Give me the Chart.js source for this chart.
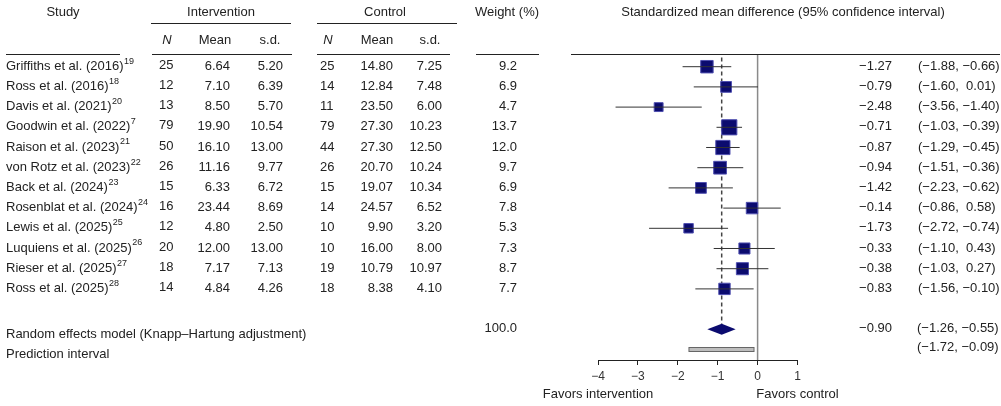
<!DOCTYPE html>
<html>
<head>
<meta charset="utf-8">
<script src="https://cdn.jsdelivr.net/npm/chart.js@4.4.1/dist/chart.umd.min.js"></script>
<style>
  html, body { margin: 0; padding: 0; background: #fff; }
  #wrap { width: 1001px; height: 406px; position: relative; }
</style>
</head>
<body>
<div id="wrap"><canvas id="forest"></canvas></div>
<script>
// studies and their reference numbers
var studies = ["Griffiths et al. (2016)", "Ross et al. (2016)", "Davis et al. (2021)", "Goodwin et al. (2022)",
  "Raison et al. (2023)", "von Rotz et al. (2023)", "Back et al. (2024)", "Rosenblat et al. (2024)",
  "Lewis et al. (2025)", "Luquiens et al. (2025)", "Rieser et al. (2025)", "Ross et al. (2025)"];
var refs = ["19", "18", "20", "7", "21", "22", "23", "24", "25", "26", "27", "28"];

// intervention arm
var intN = [25, 12, 13, 79, 50, 26, 15, 16, 12, 20, 18, 14];
var intMean = [6.64, 7.10, 8.50, 19.90, 16.10, 11.16, 6.33, 23.44, 4.80, 12.00, 7.17, 4.84];
var intSd = [5.20, 6.39, 5.70, 10.54, 13.00, 9.77, 6.72, 8.69, 2.50, 13.00, 7.13, 4.26];

// control arm
var ctlN = [25, 14, 11, 79, 44, 26, 15, 14, 10, 10, 19, 18];
var ctlMean = [14.80, 12.84, 23.50, 27.30, 27.30, 20.70, 19.07, 24.57, 9.90, 16.00, 10.79, 8.38];
var ctlSd = [7.25, 7.48, 6.00, 10.23, 12.50, 10.24, 10.34, 6.52, 3.20, 8.00, 10.97, 4.10];

// weights and effect sizes
var weight = [9.2, 6.9, 4.7, 13.7, 12.0, 9.7, 6.9, 7.8, 5.3, 7.3, 8.7, 7.7];
var smd = [-1.27, -0.79, -2.48, -0.71, -0.87, -0.94, -1.42, -0.14, -1.73, -0.33, -0.38, -0.83];
var ciLow = [-1.88, -1.60, -3.56, -1.03, -1.29, -1.51, -2.23, -0.86, -2.72, -1.10, -1.03, -1.56];
var ciHigh = [-0.66, 0.01, -1.40, -0.39, -0.45, -0.36, -0.62, 0.58, -0.74, 0.43, 0.27, -0.10];

// pooled estimate and prediction interval
var pooled = [-0.90, -1.26, -0.55];
var predInt = [-1.72, -0.09];
var totalWeight = 100.0;

// axis ticks
var xTicks = [-4, -3, -2, -1, 0, 1];

var FONT = "'Liberation Sans', Arial, sans-serif";
var INK = "#222";
var NAVY = "#0b0b6f";
var rowPooled = studies.length + 1;
var rowPred = studies.length + 2;

function fmt(v, d) {
  return v.toFixed(d).replace("-", "\u2212");
}
function ciText(lo, hi) {
  return "(" + fmt(lo, 2) + "," + (hi >= 0 ? "  " : " ") + fmt(hi, 2) + ")";
}
function txt(ctx, s, x, y, align, size, style) {
  ctx.font = (style || "") + " " + (size || 13) + "px " + FONT;
  ctx.textAlign = align || "left";
  ctx.textBaseline = "middle";
  ctx.fillStyle = INK;
  ctx.fillText(s, x, y);
  return ctx.measureText(s).width;
}
function hline(ctx, x1, x2, y) {
  ctx.beginPath();
  ctx.moveTo(x1, y);
  ctx.lineTo(x2, y);
  ctx.stroke();
}

var tablePlugin = {
  id: "forestTable",
  beforeDatasetsDraw: function (chart) {
    var ctx = chart.ctx, xs = chart.scales.x, ys = chart.scales.y, area = chart.chartArea;
    ctx.save();
    // line of no effect
    var x0 = xs.getPixelForValue(0);
    ctx.strokeStyle = "#8a8a8a";
    ctx.lineWidth = 1.5;
    ctx.beginPath();
    ctx.moveTo(x0, area.top);
    ctx.lineTo(x0, area.bottom);
    ctx.stroke();
    // pooled estimate (dashed)
    var xp = xs.getPixelForValue(pooled[0]);
    ctx.strokeStyle = "#444";
    ctx.setLineDash([4, 3]);
    ctx.beginPath();
    ctx.moveTo(xp, area.top + 3);
    ctx.lineTo(xp, ys.getPixelForValue(rowPooled) - 5);
    ctx.stroke();
    ctx.restore();
  },
  afterDatasetsDraw: function (chart) {
    var ctx = chart.ctx, xs = chart.scales.x, ys = chart.scales.y, area = chart.chartArea;
    ctx.save();

    // pooled diamond
    var yc = ys.getPixelForValue(rowPooled);
    ctx.fillStyle = NAVY;
    ctx.beginPath();
    ctx.moveTo(xs.getPixelForValue(pooled[1]), yc);
    ctx.lineTo(xs.getPixelForValue(pooled[0]), yc - 5.5);
    ctx.lineTo(xs.getPixelForValue(pooled[2]), yc);
    ctx.lineTo(xs.getPixelForValue(pooled[0]), yc + 5.5);
    ctx.closePath();
    ctx.fill();

    // prediction interval bar
    var yq = ys.getPixelForValue(rowPred);
    var xa = xs.getPixelForValue(predInt[0]), xb = xs.getPixelForValue(predInt[1]);
    ctx.fillStyle = "#bdbdbd";
    ctx.strokeStyle = "#666";
    ctx.lineWidth = 1;
    ctx.fillRect(xa, yq - 2, xb - xa, 4);
    ctx.strokeRect(xa, yq - 2, xb - xa, 4);

    // header
    txt(ctx, "Study", 63, 12, "center");
    txt(ctx, "Intervention", 221, 12, "center");
    txt(ctx, "Control", 385, 12, "center");
    txt(ctx, "Weight (%)", 507, 12, "center");
    txt(ctx, "Standardized mean difference (95% confidence interval)", 783, 12, "center");
    txt(ctx, "N", 167, 40, "center", 13, "italic");
    txt(ctx, "Mean", 215, 40, "center");
    txt(ctx, "s.d.", 270, 40, "center");
    txt(ctx, "N", 328, 40, "center", 13, "italic");
    txt(ctx, "Mean", 377, 40, "center");
    txt(ctx, "s.d.", 430, 40, "center");

    ctx.strokeStyle = INK;
    ctx.lineWidth = 1;
    hline(ctx, 151, 291, 23.5);
    hline(ctx, 317, 457, 23.5);
    hline(ctx, 6, 120, 54.5);
    hline(ctx, 152, 292, 54.5);
    hline(ctx, 317, 450, 54.5);
    hline(ctx, 476, 539, 54.5);
    hline(ctx, 571, 1000, 54.5);

    // study rows
    for (var i = 0; i < studies.length; i++) {
      var y = ys.getPixelForValue(i) - 0.5;
      var w = txt(ctx, studies[i], 6, y, "left");
      txt(ctx, refs[i], 6 + w + 0.5, y - 5, "left", 9);
      txt(ctx, String(intN[i]), 159, y - 1, "left");
      txt(ctx, fmt(intMean[i], 2), 230, y, "right");
      txt(ctx, fmt(intSd[i], 2), 283, y, "right");
      txt(ctx, String(ctlN[i]), 320, y, "left");
      txt(ctx, fmt(ctlMean[i], 2), 393, y, "right");
      txt(ctx, fmt(ctlSd[i], 2), 442, y, "right");
      txt(ctx, weight[i].toFixed(1), 517, y, "right");
      txt(ctx, fmt(smd[i], 2), 892, y, "right");
      txt(ctx, ciText(ciLow[i], ciHigh[i]), 918, y, "left");
    }

    // pooled rows
    var yp = ys.getPixelForValue(rowPooled);
    txt(ctx, "Random effects model (Knapp\u2013Hartung adjustment)", 6, yp + 5, "left");
    txt(ctx, totalWeight.toFixed(1), 517, yp - 1, "right");
    txt(ctx, fmt(pooled[0], 2), 892, yp - 1, "right");
    txt(ctx, ciText(pooled[1], pooled[2]), 917, yp - 1, "left");
    var yr = ys.getPixelForValue(rowPred);
    txt(ctx, "Prediction interval", 6, yr + 5, "left");
    txt(ctx, ciText(predInt[0], predInt[1]), 917, yr - 2, "left");

    // direction labels
    txt(ctx, "Favors intervention", xs.getPixelForValue(xTicks[0]), 394, "center");
    txt(ctx, "Favors control", xs.getPixelForValue(xTicks[xTicks.length - 1]), 394, "center");

    ctx.restore();
  }
};

// confidence-interval whiskers (drawn above the squares)
var ciSets = studies.map(function (s, i) {
  return {
    type: "line",
    data: [{ x: ciLow[i], y: i }, { x: ciHigh[i], y: i }],
    borderColor: "#333",
    borderWidth: 1,
    pointRadius: 0,
    fill: false
  };
});

var squareSet = {
  type: "scatter",
  data: smd.map(function (v, i) { return { x: v, y: i }; }),
  pointStyle: "rect",
  pointRadius: weight.map(function (w) { return 2.9 * Math.sqrt(w); }),
  backgroundColor: NAVY,
  borderColor: "#4f4fb0",
  borderWidth: 1
};

new Chart("forest", {
  type: "scatter",
  data: { datasets: ciSets.concat([squareSet]) },
  options: {
    responsive: true,
    maintainAspectRatio: false,
    animation: false,
    events: [],
    layout: { padding: { left: 598, right: 203.5, top: 54.5, bottom: 0 } },
    plugins: { legend: { display: false }, tooltip: { enabled: false } },
    scales: {
      x: {
        type: "linear",
        min: xTicks[0],
        max: xTicks[xTicks.length - 1],
        afterBuildTicks: function (axis) {
          axis.ticks = xTicks.map(function (v) { return { value: v }; });
        },
        afterFit: function (axis) { axis.height = 46; },
        ticks: {
          color: "#333",
          padding: 4,
          font: { family: FONT, size: 12 },
          callback: function (v) { return String(v).replace("-", "\u2212"); }
        },
        grid: { drawOnChartArea: false, drawTicks: true, tickLength: 5, color: "#222" },
        border: { display: true, color: "#222", width: 1 }
      },
      y: {
        type: "linear",
        display: false,
        reverse: true,
        min: -0.604,
        max: 14.52
      }
    }
  },
  plugins: [tablePlugin]
});
</script>
</body>
</html>
